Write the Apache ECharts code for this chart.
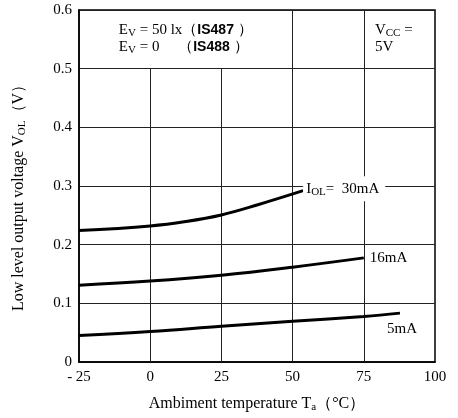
<!DOCTYPE html>
<html>
<head>
<meta charset="utf-8">
<script src="https://cdn.jsdelivr.net/npm/echarts@6/dist/echarts.min.js"></script>
<style>
html,body{margin:0;padding:0;background:#fff;}
#c{width:458px;height:418px;}
</style>
</head>
<body>
<div id="c"></div>
<script>
// Data
const temps30 = [-25, 0, 12.5, 25, 37.5, 53.7];
const vol30   = [0.224, 0.232, 0.2395, 0.2507, 0.2676, 0.292];
const temps16 = [-25, 0, 25, 50, 75];
const vol16   = [0.131, 0.138, 0.148, 0.1617, 0.1775];
const temps5  = [-25, 0, 25, 50, 75, 87.7];
const vol5    = [0.0451, 0.0519, 0.0608, 0.0693, 0.0777, 0.0833];
const xTicks = [-25, 0, 25, 50, 75, 100];
const yTicks = [0, 0.1, 0.2, 0.3, 0.4, 0.5, 0.6];
// vertical grid lines: [x, yTop]
const vGrid = [[0, 0.5], [25, 0.5], [50, 0.6], [75, 0.6]];

const SERIF = "'Liberation Serif','Times New Roman',serif";
const SANS = "'Liberation Sans',Arial,sans-serif";
const pairs = (xs, ys) => xs.map((x, i) => [x, ys[i]]);

const rich = {
  n: {fontFamily: SERIF, fontSize: 15, color: '#000', lineHeight: 17},
  s: {fontFamily: SERIF, fontSize: 11, color: '#000', lineHeight: 11, verticalAlign: 'bottom'},
  b: {fontFamily: SANS, fontSize: 14, fontWeight: 'bold', color: '#000', lineHeight: 17}
};
const richName = {
  n: {fontFamily: SERIF, fontSize: 16, color: '#000', lineHeight: 18},
  s: {fontFamily: SERIF, fontSize: 11, color: '#000', lineHeight: 11, verticalAlign: 'bottom'}
};

const curveStyle = {color: '#000', width: 3};

const chart = echarts.init(document.getElementById('c'));
chart.setOption({
  animation: false,
  backgroundColor: '#fff',
  grid: {left: 79, top: 10, width: 356, height: 355, show: true, borderColor: '#000', borderWidth: 1.5, backgroundColor: 'transparent'},
  xAxis: {
    type: 'value', min: xTicks[0], max: xTicks[xTicks.length - 1], interval: 25,
    axisLine: {show: true, onZero: false, lineStyle: {color: '#000', width: 1.5}},
    axisTick: {show: false},
    splitLine: {show: false},
    axisLabel: {margin: 8, fontFamily: SERIF, fontSize: 15, color: '#000',
      formatter: v => v < 0 ? '- ' + Math.abs(v) : String(v)},
    name: '{n|Ambiment temperature T}{s|a}{n|（°C）}',
    nameLocation: 'middle', nameGap: 33,
    nameTextStyle: {fontFamily: SERIF, fontSize: 16, color: '#000', rich: richName}
  },
  yAxis: {
    type: 'value', min: yTicks[0], max: yTicks[yTicks.length - 1], interval: 0.1,
    axisLine: {show: true, onZero: false, lineStyle: {color: '#000', width: 1.5}},
    axisTick: {show: false},
    splitLine: {show: true, lineStyle: {color: '#222', width: 1}},
    axisLabel: {margin: 7, fontFamily: SERIF, fontSize: 15, color: '#000',
      formatter: v => v === 0 ? '0' : v.toFixed(1)},
    name: '{n|Low level output voltage V}{s|OL}{n|（V）}',
    nameLocation: 'middle', nameGap: 51, nameRotate: 90,
    nameTextStyle: {fontFamily: SERIF, fontSize: 16, color: '#000', rich: richName, padding: [0, 16, 0, 0]}
  },
  series: [
    {
      type: 'line', smooth: 0.4, symbol: 'none', silent: true, z: 3,
      data: pairs(temps30, vol30), lineStyle: curveStyle,
      endLabel: {show: true, distance: 0, offset: [0, -2],
        formatter: '{n|I}{s|OL}{n|=  30mA}', rich: rich,
        backgroundColor: '#fff', padding: [4, 6, 4, 3]},
      markLine: {
        silent: true, symbol: ['none', 'none'], label: {show: false},
        lineStyle: {color: '#222', width: 1, type: 'solid'}, z: 1,
        data: vGrid.map(g => [{coord: [g[0], 0]}, {coord: [g[0], g[1]]}])
      },
      markPoint: {
        silent: true, symbol: 'circle', symbolSize: 0,
        label: {show: true, position: 'right', distance: 0, rich: rich},
        data: [
          {coord: [-11, 0.566], label: {formatter: '{n|E}{s|V}{n| = 50 lx（}{b|IS487}{n| ）}'}},
          {coord: [-11, 0.537], label: {formatter: '{n|E}{s|V}{n| = 0     （}{b|IS488}{n| ）}'}},
          {coord: [78.9, 0.566], label: {formatter: '{n|V}{s|CC}{n| =}'}},
          {coord: [78.9, 0.537], label: {formatter: '{n|5V}'}}
        ]
      }
    },
    {
      type: 'line', smooth: 0.4, symbol: 'none', silent: true, z: 3,
      data: pairs(temps16, vol16), lineStyle: curveStyle,
      endLabel: {show: true, distance: 6, formatter: '{n|16mA}', rich: rich}
    },
    {
      type: 'line', smooth: 0.4, symbol: 'none', silent: true, z: 3,
      data: pairs(temps5, vol5), lineStyle: curveStyle,
      endLabel: {show: true, distance: 5, offset: [-18, 16], formatter: '{n|5mA}', rich: rich}
    }
  ]
});
</script>
</body>
</html>
